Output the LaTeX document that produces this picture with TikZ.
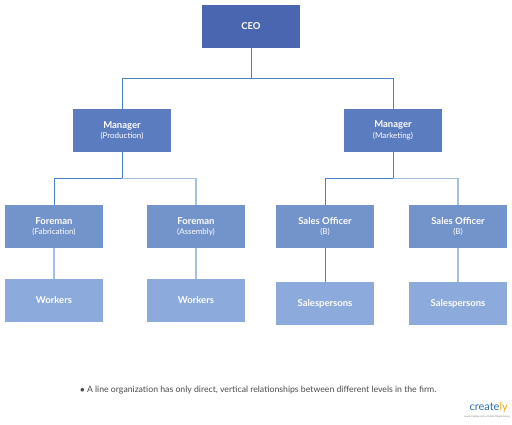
\documentclass[tikz,border=0pt]{standalone}
\usepackage{fontspec}
\setmainfont{Lato}
\begin{document}
\begin{tikzpicture}[x=1pt,y=-1pt,
  box/.style={draw=none,minimum width=98pt,minimum height=43pt,inner sep=0pt,
    text=white,align=center,font=\fontsize{9.5}{11.5}\selectfont},
  lvla/.style={box,fill=ceoblue},
  lvlb/.style={box,fill=mgrblue},
  lvlc/.style={box,fill=forblue},
  lvld/.style={box,fill=wrkblue},
  conn/.style={draw=linedark,line width=1pt},
  connl/.style={draw=linelight,line width=1.2pt}]
\definecolor{ceoblue}{HTML}{4A66B0}
\definecolor{mgrblue}{HTML}{5C7CC0}
\definecolor{forblue}{HTML}{7393CB}
\definecolor{wrkblue}{HTML}{8CAADB}
\definecolor{linedark}{HTML}{4A82C3}
\definecolor{linelight}{HTML}{A3BFE2}
\useasboundingbox[fill=white] (0,0) rectangle (512,424);
\newcommand{\sub}[1]{\\[-1pt]{\fontsize{8}{9.5}\selectfont #1}}
\node[lvla] (ceo) at (251,26) {\bfseries CEO};
\node[lvlb] (mp) at (122,130.5) {\bfseries Manager\sub{(Production)}};
\node[lvlb] (mm) at (393,130.5) {\bfseries Manager\sub{(Marketing)}};
\node[lvlc] (ff) at (54,226.5) {\bfseries Foreman\sub{(Fabrication)}};
\node[lvlc] (fa) at (196,226.5) {\bfseries Foreman\sub{(Assembly)}};
\node[lvlc] (s1) at (325,226.5) {\bfseries Sales Officer\sub{(B)}};
\node[lvlc] (s2) at (458,226.5) {\bfseries Sales Officer\sub{(B)}};
\node[lvld] (w1) at (54,300.5) {\bfseries Workers};
\node[lvld] (w2) at (196,300.5) {\bfseries Workers};
\node[lvld] (p1) at (325,303.5) {\bfseries Salespersons};
\node[lvld] (p2) at (458,303.5) {\bfseries Salespersons};
\draw[conn] (ceo.south) -- ++(0,31) -| (mp.north);
\draw[conn] (ceo.south) ++(0,31) -| (mm.north);
\draw[conn] (mp.south) -- ++(0,26) -| (ff.north);
\draw[connl] (mp.south) ++(0,26) -| (fa.north);
\draw[conn] (mm.south) -- ++(0,26) -| (s1.north);
\draw[connl] (mm.south) ++(0,26) -| (s2.north);
\draw[connl] (ff.south) -- (w1.north);
\draw[connl] (fa.south) -- (w2.north);
\draw[conn] (s1.south) -- (p1.north);
\draw[connl] (s2.south) -- (p2.north);
\node[anchor=west,text=black!70,font=\fontsize{8.7}{10}\selectfont,inner sep=0pt] (note) at (80,390)
  {$\bullet$\ A line organization has only direct, vertical relationships between different levels in the firm.};
\node[anchor=south east,inner sep=0pt,font=\fontsize{11}{12}\selectfont] (logo) at (508,413)
  {\textcolor[HTML]{2E6DB4}{create}\textcolor[HTML]{F2A900}{ly}};
\node[anchor=north east,inner sep=0pt,text=black!50,font=\fontsize{2.5}{3}\selectfont] (tag) at (510,415)
  {www.creately.com • Online Diagramming};
\end{tikzpicture}
\end{document}
